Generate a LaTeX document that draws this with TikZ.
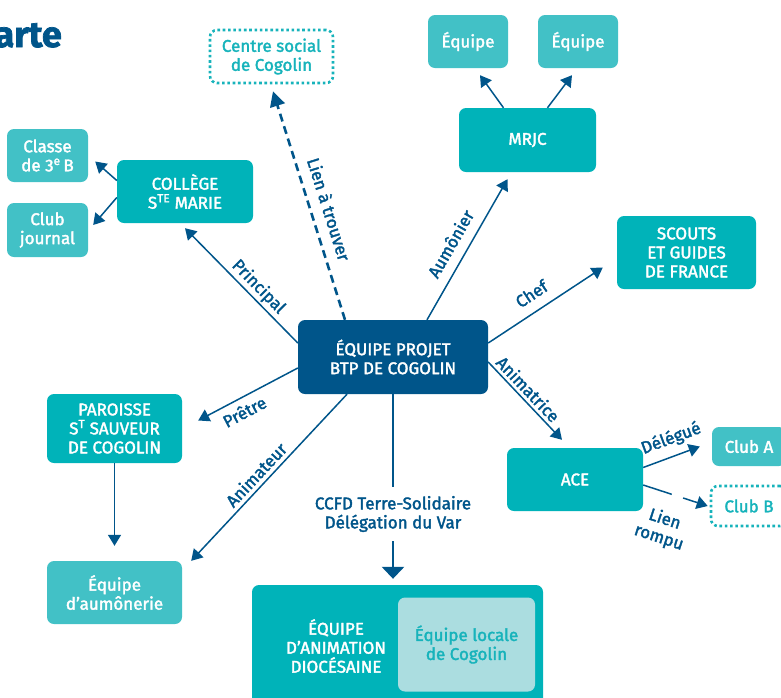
\documentclass[tikz,border=0pt]{standalone}
\usepackage{fontspec}
\setmainfont{Fira Sans}[FakeBold=2]
\usetikzlibrary{arrows.meta,calc}
\definecolor{dblue}{HTML}{00558A}
\definecolor{tealA}{HTML}{00B3B9}
\definecolor{tealB}{HTML}{42C1C6}
\definecolor{tealpale}{HTML}{ABDDE0}
\definecolor{tealtext}{HTML}{17B3BB}
\newcommand\boxfont{\fontsize{17}{19}\selectfont}
\tikzset{
  box/.style={rounded corners=7pt, fill=tealA, text=white, align=center, font=\boxfont, inner sep=0pt},
  subbox/.style={box, fill=tealB},
  hubbox/.style={box, fill=dblue},
  dotbox/.style={rounded corners=7pt, draw=tealtext, line width=2.6pt, line cap=butt, dash pattern=on 2.6pt off 2.7pt, text=tealtext, align=center, font=\boxfont, inner sep=0pt},
  arr/.style={draw=dblue, line width=1.5pt, -{Triangle[length=11pt,width=13pt]}},
  dasharr/.style={draw=dblue, line width=2.6pt, dash pattern=on 8pt off 5pt, -{Triangle[length=15pt,width=15pt]}},
  vline/.style={draw=dblue, line width=2.4pt},
  bigarr/.style={draw=dblue, line width=2.8pt, -{Triangle[length=12pt,width=22pt]}},
  lbl/.style={text=dblue, font=\boxfont, inner sep=2pt},
}
\begin{document}
\begin{tikzpicture}[x=1pt,y=-1pt]
\useasboundingbox (0,0) rectangle (781,697);
\node[font=\bfseries\fontsize{36}{40}\selectfont, text=dblue, anchor=base east, inner sep=0pt] (title) at (62,47) {arte};

\node[dotbox, minimum width=123pt, minimum height=53pt] (centre) at (271.5,56.5) {Centre social\\de Cogolin};
\node[subbox, minimum width=80pt, minimum height=53pt] (eqa) at (468,41.5) {Équipe};
\node[subbox, minimum width=80pt, minimum height=53pt] (eqb) at (578,41.5) {Équipe};
\node[box, minimum width=137pt, minimum height=64pt] (mrjc) at (527.5,140) {MRJC};
\node[subbox, minimum width=81pt, minimum height=53pt] (classe) at (47.5,155.5) {Classe\\de 3\textsuperscript{e}\,B};
\node[subbox, minimum width=81pt, minimum height=54pt] (clubj) at (47.5,230) {Club\\journal};
\node[box, minimum width=136pt, minimum height=63pt] (college) at (185,191.5) {COLLÈGE\\S\textsuperscript{TE} MARIE};
\node[box, minimum width=139pt, minimum height=73pt] (scouts) at (686.5,252.5) {SCOUTS\\ET GUIDES\\DE FRANCE};
\node[hubbox, minimum width=190pt, minimum height=74pt] (central) at (393,357) {ÉQUIPE PROJET\\BTP DE COGOLIN};
\node[box, minimum width=135pt, minimum height=69pt] (paroisse) at (114.5,428.5) {PAROISSE\\S\textsuperscript{T} SAUVEUR\\DE COGOLIN};
\node[subbox, minimum width=135pt, minimum height=63pt] (aum) at (114.5,592.5) {Équipe\\d’aumônerie};
\node[box, minimum width=136pt, minimum height=63pt] (ace) at (575,479.5) {ACE};
\node[subbox, minimum width=74pt, minimum height=39pt] (cluba) at (749,446.5) {Club A};
\node[dotbox, minimum width=76pt, minimum height=40pt] (clubb) at (749,506) {Club B};
\node[box, minimum width=291pt, minimum height=150pt] (dio) at (397.5,660) {};
\node[text=white, align=center, font=\boxfont, inner sep=0pt] (ead) at (336,646) {ÉQUIPE\\D’ANIMATION\\DIOCÉSAINE};
\node[rounded corners=7pt, fill=tealpale, text=tealtext, align=center, font=\boxfont, inner sep=0pt, minimum width=137pt, minimum height=94pt] (locale) at (466.5,644.5) {Équipe locale\\de Cogolin};
\node[lbl, align=center, inner xsep=0pt, inner ysep=9pt] (ccfd) at (393,514) {CCFD Terre-Solidaire\\Délégation du Var};

\draw[dasharr] ([xshift=-48pt]central.north) -- node[lbl, sloped, above=8pt, pos=0.46] (l1) {Lien à trouver} ([xshift=1.5pt,yshift=-7pt]centre.south);
\draw[arr] ([yshift=14pt]central.west) -- node[lbl, sloped, above=0pt, pos=0.42] (l2) {Principal} ([yshift=-5pt]college.south);
\draw[arr] ([yshift=-11pt]central.west) -- node[lbl, sloped, below=4pt, pos=0.6] (l3) {Prêtre} ([xshift=16pt,yshift=8pt]paroisse.east);
\draw[arr] ([xshift=-46pt]central.south) -- node[lbl, sloped, above=2pt, pos=0.53] (l4) {Animateur} ([xshift=9pt]aum.north east);
\draw[vline] (central.south) -- (ccfd.north);
\draw[bigarr] (ccfd.south) -- ($(ccfd.south |- dio.north)+(0,-6)$);
\draw[arr] ([xshift=34pt]central.north) -- node[lbl, sloped, above=8pt, pos=0.48] (l5) {Aumônier} ([xshift=-20pt,yshift=-7pt]mrjc.south);
\draw[arr] ([yshift=14pt]central.east) -- node[lbl, sloped, above=8pt, pos=0.46] (l6) {Chef} ([xshift=-14pt,yshift=-15pt]scouts.west);
\draw[arr] ([yshift=-5pt]central.east) -- node[lbl, sloped, above=1pt, pos=0.44] (l7) {Animatrice} ([xshift=-13pt,yshift=8pt]ace.north);
\draw[arr] ([yshift=12pt]ace.east) -- node[lbl, sloped, above=6pt, pos=0.6] (l8) {Délégué} ([xshift=-12pt]cluba.west);
\draw[arr, dash pattern=on 30pt off 12pt on 80pt] ([yshift=-5.5pt]ace.east) -- node[lbl, sloped, below=15pt, pos=0.46, align=center] (l9) {Lien\\rompu} ([xshift=-2pt]clubb.west);
\draw[arr] ([yshift=11pt]college.west) -- ([xshift=7pt,yshift=-6pt]classe.east);
\draw[arr] ([yshift=-6pt]college.west) -- ([xshift=5pt,yshift=5pt]clubj.east);
\draw[arr] ([xshift=-24pt]mrjc.north) -- ([xshift=12pt,yshift=-7pt]eqa.south);
\draw[arr] ([xshift=20pt]mrjc.north) -- ([xshift=-6pt,yshift=-7pt]eqb.south);
\draw[arr] (paroisse.south) -- ([yshift=15pt]aum.north);
\end{tikzpicture}
\end{document}
